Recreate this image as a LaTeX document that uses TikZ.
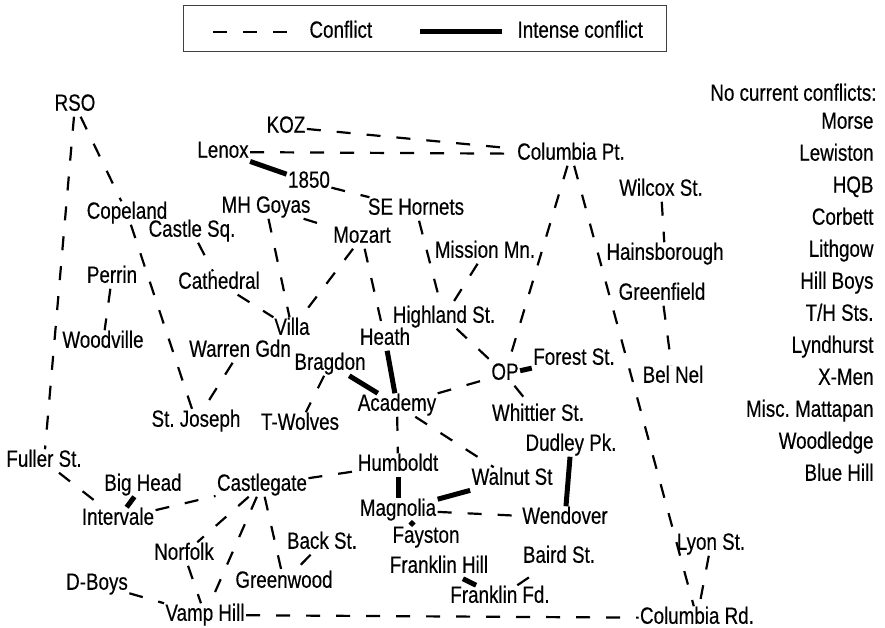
\documentclass[tikz,border=0pt]{standalone}
\usepackage{fontspec}
\setmainfont[FakeStretch=0.8,FakeBold=0.4]{Liberation Sans}
\tikzset{
  place/.style = {inner sep=1.5pt, outer sep=0pt, yshift=-2pt,
                  text height=16pt, text depth=4.5pt,
                  font=\fontsize{23.5}{26}\selectfont\frenchspacing},
  conflict/.style = {line width=2.2pt, dash pattern=on 14pt off 16pt},
  intense/.style = {line width=5pt},
  legendbox/.style = {draw=black!75, line width=1pt}
}

\begin{document}
\begin{tikzpicture}[x=1pt,y=-1pt]
	\useasboundingbox (0,0) rectangle (885,628);

	% Legend
	\draw[legendbox] (183,6) rectangle (666,52);
	\coordinate (lgA) at (213,32);
	\coordinate (lgB) at (293,32);
	\coordinate (lgC) at (420,32);
	\coordinate (lgD) at (502,32);
	\draw[conflict] (lgA) -- (lgB);
	\draw[intense] (lgC) -- (lgD);
	\node[place, anchor=west] (lgconflict) at (308,30) {Conflict};
	\node[place, anchor=west] (lgintense) at (516,30) {Intense conflict};

	% Gangs
	\node[place] (rso)        at (75,103)  {RSO};
	\node[place] (koz)        at (286,125) {KOZ};
	\node[place] (lenox)      at (223,150) {Lenox};
	\node[place] (colpt)      at (571,152) {Columbia Pt.};
	\node[place] (n1850)      at (309,180) {1850};
	\node[place] (wilcox)     at (661,188) {Wilcox St.};
	\node[place] (mhgoyas)    at (266,205) {MH Goyas};
	\node[place] (sehornets)  at (416,207) {SE Hornets};
	\node[place] (copeland)   at (127,211) {Copeland};
	\node[place] (castlesq)   at (192,229) {Castle Sq.};
	\node[place] (mozart)     at (362,235) {Mozart};
	\node[place] (mission)    at (485,250) {Mission Mn.};
	\node[place] (hains)      at (665,252) {Hainsborough};
	\node[place] (perrin)     at (112,275) {Perrin};
	\node[place] (cathedral)  at (219,281) {Cathedral};
	\node[place] (greenfield) at (662,292) {Greenfield};
	\node[place] (highland)   at (444,315) {Highland St.};
	\node[place] (villa)      at (292,327) {Villa};
	\node[place] (heath)      at (385,337) {Heath};
	\node[place] (woodville)  at (103,340) {Woodville};
	\node[place] (warren)     at (240,349) {Warren Gdn};
	\node[place] (forest)     at (574,357) {Forest St.};
	\node[place] (bragdon)    at (330,362) {Bragdon};
	\node[place] (op)         at (505,372) {OP};
	\node[place] (belnel)     at (673,375) {Bel Nel};
	\node[place] (academy)    at (397,403) {Academy};
	\node[place] (whittier)   at (538,413) {Whittier St.};
	\node[place] (stjoseph)   at (196,419) {St. Joseph};
	\node[place] (twolves)    at (300,422) {T-Wolves};
	\node[place] (dudley)     at (571,443) {Dudley Pk.};
	\node[place] (fuller)     at (44,459)  {Fuller St.};
	\node[place] (humboldt)   at (398,463) {Humboldt};
	\node[place] (walnut)     at (512,477) {Walnut St};
	\node[place] (bighead)    at (143,483) {Big Head};
	\node[place] (castlegate) at (262,483) {Castlegate};
	\node[place] (magnolia)   at (398,508) {Magnolia};
	\node[place] (wendover)   at (565,516) {Wendover};
	\node[place] (intervale)  at (118,517) {Intervale};
	\node[place] (fayston)    at (426,535) {Fayston};
	\node[place] (backst)     at (322,541) {Back St.};
	\node[place] (lyon)       at (711,542) {Lyon St.};
	\node[place] (norfolk)    at (184,552) {Norfolk};
	\node[place] (baird)      at (559,555) {Baird St.};
	\node[place] (fhill)      at (439,565) {Franklin Hill};
	\node[place] (greenwood)  at (284,580) {Greenwood};
	\node[place] (dboys)      at (97,582)  {D-Boys};
	\node[place] (ffd)        at (500,595) {Franklin Fd.};
	\node[place] (vamp)       at (205,613) {Vamp Hill};
	\node[place] (colrd)      at (697,616) {Columbia Rd.};

	% No current conflicts
	\node[place, anchor=east] (quiet) at (878,93) {No current conflicts:};
	\foreach \name [count=\i] in {Morse,Lewiston,HQB,Corbett,Lithgow,Hill Boys,
		T/H Sts.,Lyndhurst,X-Men,Misc. Mattapan,Woodledge,Blue Hill}
		\node[place, anchor=east] (quiet-\i) at (875,89+32*\i) {\name};

	% Conflicts
	\draw[conflict] (rso) -- (fuller);
	\draw[conflict] (rso) -- (copeland);
	\draw[conflict] (copeland) -- (stjoseph);
	\draw[conflict] (perrin) -- (woodville);
	\draw[conflict] (warren) -- (stjoseph);
	\draw[conflict] (koz) -- (colpt);
	\draw[conflict] (lenox) -- (colpt);
	\draw[conflict] (n1850) -- (sehornets);
	\draw[conflict] (sehornets) -- (highland);
	\draw[conflict] (mission) -- (highland);
	\draw[conflict] (highland) -- (op);
	\draw[conflict] (mhgoyas) -- (mozart);
	\draw[conflict] (mhgoyas) -- (villa);
	\draw[conflict] (castlesq) -- (cathedral);
	\draw[conflict] (cathedral) -- (villa);
	\draw[conflict] (mozart) -- (villa);
	\draw[conflict] (mozart) -- (heath);
	\draw[conflict] (colpt) -- (op);
	\draw[conflict] (colpt) -- (colrd);
	\draw[conflict] (wilcox) -- (hains);
	\draw[conflict] (greenfield) -- (belnel);
	\draw[conflict] (academy) -- (op);
	\draw[conflict] (op) -- (whittier);
	\draw[conflict] (bragdon) -- (twolves);
	\draw[conflict] (academy) -- (humboldt);
	\draw[conflict] (academy) -- (walnut);
	\draw[conflict] (castlegate) -- (humboldt);
	\draw[conflict] (magnolia) -- (wendover);
	\draw[conflict] (ffd) -- (baird);
	\draw[conflict] (fuller) -- (intervale);
	\draw[conflict] (intervale) -- (castlegate);
	\draw[conflict] (castlegate) -- (norfolk);
	\draw[conflict] (castlegate) -- (vamp);
	\draw[conflict] (castlegate) -- (greenwood);
	\draw[conflict] (backst) -- (greenwood);
	\draw[conflict] (norfolk) -- (vamp);
	\draw[conflict] (dboys) -- (vamp);
	\draw[conflict] (vamp) -- (colrd);
	\draw[conflict] (lyon) -- (colrd);

	% Intense conflicts
	\draw[intense] (lenox) -- (n1850);
	\draw[intense] (bragdon) -- (academy);
	\draw[intense] (heath) -- (academy);
	\draw[intense] (op) -- (forest);
	\draw[intense] (humboldt) -- (magnolia);
	\draw[intense] (magnolia) -- (walnut);
	\draw[intense] (magnolia) -- (fayston);
	\draw[intense] (dudley) -- (wendover);
	\draw[intense] (fhill) -- (ffd);
	\draw[intense] (bighead) -- (intervale);
\end{tikzpicture}
\end{document}
